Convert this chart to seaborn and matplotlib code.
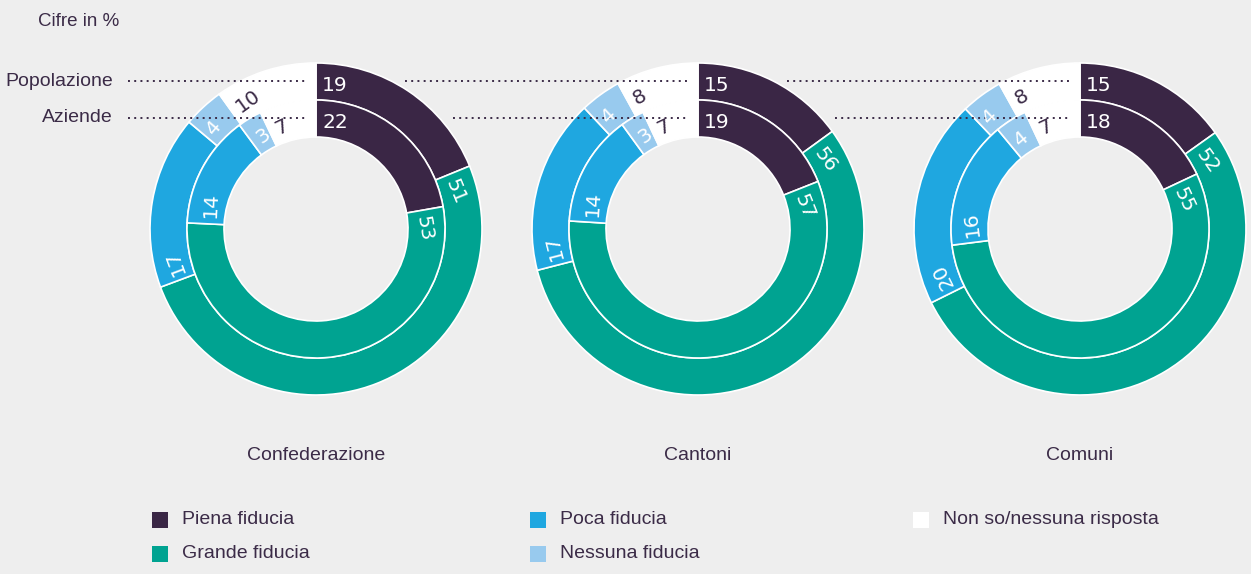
#!/usr/bin/env python3
# nested donuts: trust in Confederazione / Cantoni / Comuni

import numpy as np
import matplotlib
matplotlib.use('Agg')
import matplotlib.pyplot as plt
import seaborn as sns

# Data =========================================================================

levels = ['Confederazione', 'Cantoni', 'Comuni']
categories = ['Piena fiducia', 'Grande fiducia', 'Poca fiducia',
              'Nessuna fiducia', 'Non so/nessuna risposta']
popolazione = [
    [19, 51, 17, 4, 10],
    [15, 56, 17, 4, 8],
    [15, 52, 20, 4, 8],
]
aziende = [
    [22, 53, 14, 3, 7],
    [19, 57, 14, 3, 7],
    [18, 55, 16, 4, 7],
]
ring_names = ['Popolazione', 'Aziende']

# Style ========================================================================

palette = ['#3a2645', '#00a391', '#1fa7e0', '#98caee', '#ffffff']
ink = '#3b2b47'
bg = '#eeeeee'

sns.set_theme(style='white')
plt.rcParams['font.family'] = ['Liberation Sans', 'DejaVu Sans']

W, H = 1251, 574
fig = plt.figure(figsize=(W / 100, H / 100), dpi=100, facecolor=bg)
ax = fig.add_axes([0, 0, 1, 1])
ax.set_facecolor(bg)

cxs = [316, 698, 1080]
cy = H - 229
r_out, r_mid, width = 166, 129, 37


def ring(values, cx, radius):
    total = sum(values)
    ax.pie(values, colors=palette, radius=radius, center=(cx, cy),
           startangle=90, counterclock=False, frame=True,
           wedgeprops=dict(width=width, edgecolor='white', linewidth=1.2))
    cum = 0.0
    for v, col in zip(values, palette):
        theta = np.radians(cum / total * 360)
        r = radius - 28
        rad = np.array([np.sin(theta), np.cos(theta)])
        tan = np.array([np.cos(theta), -np.sin(theta)])
        x, y = np.array([cx, cy]) + r * rad + 6 * tan
        ax.text(x, y, str(v), rotation=-np.degrees(theta),
                rotation_mode='anchor', ha='left', va='baseline',
                fontsize=14.5, family='DejaVu Sans',
                color=ink if col == '#ffffff' else 'white')
        cum += v


for i, lvl in enumerate(levels):
    ring(popolazione[i], cxs[i], r_out)
    ring(aziende[i], cxs[i], r_mid)
    ax.text(cxs[i], H - 455, lvl, ha='center', va='center',
            fontsize=14, color=ink)

# dotted guide lines
for name, ypx, r in zip(ring_names, [81, 118], [r_out, r_out]):
    y = H - ypx
    dy = 229 - ypx
    ax.text(113, y, name, ha='right', va='center', fontsize=14, color=ink)
    starts = [128] + [c + np.sqrt(r ** 2 - dy ** 2) + 14 for c in cxs[:-1]]
    for s, c in zip(starts, cxs):
        ax.plot([s, c - 11], [y, y], color=ink, lw=1.4,
                linestyle=(0, (1, 2.2)), solid_capstyle='round')

ax.text(38, H - 22, 'Cifre in %', ha='left', va='center',
        fontsize=13.5, color=ink)

# legend
leg_x = [152, 152, 530, 530, 913]
leg_y = [520, 554, 520, 554, 520]
for lab, col, lx, ly in zip(categories, palette, leg_x, leg_y):
    ax.add_patch(plt.Rectangle((lx, H - ly - 8), 16, 16, color=col, lw=0))
    ax.text(lx + 30, H - ly, lab, ha='left', va='center',
            fontsize=14, color=ink)

ax.set_xlim(0, W)
ax.set_ylim(0, H)
ax.set_aspect('auto')
ax.axis('off')

fig.savefig('out.png', dpi=100, facecolor=bg)
